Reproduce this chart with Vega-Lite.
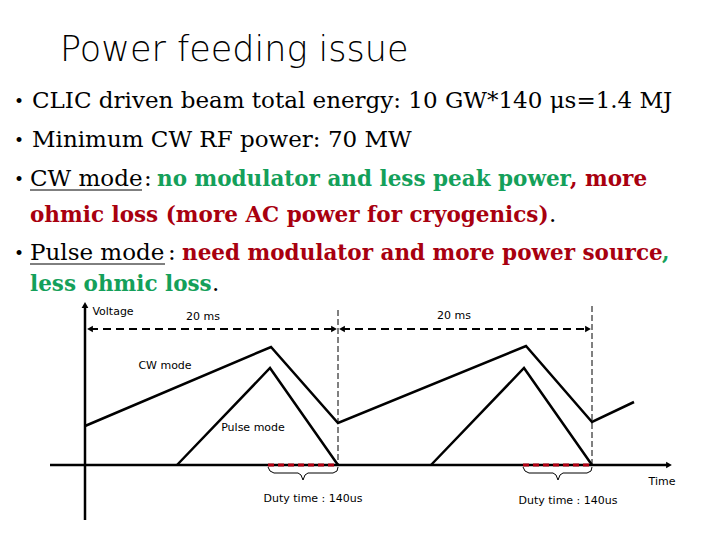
{
  "$schema": "https://vega.github.io/schema/vega-lite/v6.json",
  "width": 720,
  "height": 540,
  "autosize": {"type": "fit", "contains": "padding"},
  "padding": 0,
  "background": "white",
  "config": {"view": {"stroke": null}},
  "datasets": {
    "words": [
      {"x": 60, "y": 61, "t": "Power feeding issue", "k": "title", "r": "plain"},
      {"x": 14, "y": 108, "t": "•", "k": "dot", "r": "plain"},
      {"x": 32, "y": 108, "t": "CLIC driven beam total energy: 10 GW*140 μs=1.4 MJ", "k": "body", "r": "plain"},
      {"x": 14, "y": 147, "t": "•", "k": "dot", "r": "plain"},
      {"x": 32, "y": 147, "t": "Minimum CW RF power: 70 MW", "k": "body", "r": "plain"},
      {"x": 14, "y": 186, "t": "•", "k": "dot", "r": "plain"},
      {"x": 30, "y": 186, "t": "CW mode", "k": "body", "r": "plain"},
      {"x": 144, "y": 186, "t": ":", "k": "body", "r": "plain"},
      {"x": 157, "y": 186, "t": "no modulator and less peak power", "k": "bold", "r": "good"},
      {"x": 570, "y": 186, "t": ", more", "k": "bold", "r": "bad"},
      {"x": 30, "y": 222, "t": "ohmic loss (more AC power for cryogenics)", "k": "bold", "r": "bad"},
      {"x": 549, "y": 222, "t": ".", "k": "body", "r": "plain"},
      {"x": 14, "y": 260, "t": "•", "k": "dot", "r": "plain"},
      {"x": 30, "y": 260, "t": "Pulse mode", "k": "body", "r": "plain"},
      {"x": 168, "y": 260, "t": ":", "k": "body", "r": "plain"},
      {"x": 182, "y": 260, "t": "need modulator and more power source", "k": "bold", "r": "bad"},
      {"x": 662, "y": 260, "t": ",", "k": "bold", "r": "good"},
      {"x": 30, "y": 291, "t": "less ohmic loss", "k": "bold", "r": "good"},
      {"x": 212, "y": 291, "t": ".", "k": "body", "r": "plain"},
      {"x": 113, "y": 312, "t": "Voltage", "k": "diag", "r": "plain"},
      {"x": 203, "y": 317, "t": "20 ms", "k": "diag", "r": "plain"},
      {"x": 454, "y": 316, "t": "20 ms", "k": "diag", "r": "plain"},
      {"x": 165, "y": 366, "t": "CW mode", "k": "diag", "r": "plain"},
      {"x": 253, "y": 428, "t": "Pulse mode", "k": "diag", "r": "plain"},
      {"x": 313, "y": 499, "t": "Duty time : 140us", "k": "diag", "r": "plain"},
      {"x": 568, "y": 501, "t": "Duty time : 140us", "k": "diag", "r": "plain"},
      {"x": 662, "y": 482, "t": "Time", "k": "diag", "r": "plain"}
    ],
    "paths": [
      {"id": "yaxis", "k": "solid", "o": 0, "x": 85, "y": 520},
      {"id": "yaxis", "k": "solid", "o": 1, "x": 85, "y": 306},
      {"id": "xaxis", "k": "solid", "o": 0, "x": 50, "y": 465},
      {"id": "xaxis", "k": "solid", "o": 1, "x": 667, "y": 465},
      {"id": "cw", "k": "solid", "o": 0, "x": 85, "y": 426},
      {"id": "cw", "k": "solid", "o": 1, "x": 271, "y": 347},
      {"id": "cw", "k": "solid", "o": 2, "x": 338, "y": 423},
      {"id": "cw", "k": "solid", "o": 3, "x": 526, "y": 346},
      {"id": "cw", "k": "solid", "o": 4, "x": 592, "y": 422},
      {"id": "cw", "k": "solid", "o": 5, "x": 634, "y": 402},
      {"id": "p1", "k": "solid", "o": 0, "x": 177, "y": 465},
      {"id": "p1", "k": "solid", "o": 1, "x": 270, "y": 368},
      {"id": "p1", "k": "solid", "o": 2, "x": 338, "y": 465},
      {"id": "p2", "k": "solid", "o": 0, "x": 431, "y": 465},
      {"id": "p2", "k": "solid", "o": 1, "x": 524, "y": 368},
      {"id": "p2", "k": "solid", "o": 2, "x": 592, "y": 465},
      {"id": "v1", "k": "thin", "o": 0, "x": 338, "y": 310},
      {"id": "v1", "k": "thin", "o": 1, "x": 338, "y": 465},
      {"id": "v2", "k": "thin", "o": 0, "x": 592, "y": 306},
      {"id": "v2", "k": "thin", "o": 1, "x": 592, "y": 465},
      {"id": "h1", "k": "span", "o": 0, "x": 90, "y": 329},
      {"id": "h1", "k": "span", "o": 1, "x": 334, "y": 329},
      {"id": "h2", "k": "span", "o": 0, "x": 342, "y": 329},
      {"id": "h2", "k": "span", "o": 1, "x": 588, "y": 329},
      {"id": "r1", "k": "duty", "o": 0, "x": 268, "y": 465},
      {"id": "r1", "k": "duty", "o": 1, "x": 338, "y": 465},
      {"id": "r2", "k": "duty", "o": 0, "x": 523, "y": 465},
      {"id": "r2", "k": "duty", "o": 1, "x": 592, "y": 465},
      {"id": "b1", "k": "brace", "o": 0, "x": 268, "y": 467},
      {"id": "b1", "k": "brace", "o": 1, "x": 270, "y": 471},
      {"id": "b1", "k": "brace", "o": 2, "x": 274, "y": 473},
      {"id": "b1", "k": "brace", "o": 3, "x": 298, "y": 473},
      {"id": "b1", "k": "brace", "o": 4, "x": 301, "y": 475},
      {"id": "b1", "k": "brace", "o": 5, "x": 303, "y": 480},
      {"id": "b1", "k": "brace", "o": 6, "x": 305, "y": 475},
      {"id": "b1", "k": "brace", "o": 7, "x": 308, "y": 473},
      {"id": "b1", "k": "brace", "o": 8, "x": 333, "y": 473},
      {"id": "b1", "k": "brace", "o": 9, "x": 337, "y": 471},
      {"id": "b1", "k": "brace", "o": 10, "x": 338, "y": 467},
      {"id": "b2", "k": "brace", "o": 0, "x": 523, "y": 467},
      {"id": "b2", "k": "brace", "o": 1, "x": 525, "y": 471},
      {"id": "b2", "k": "brace", "o": 2, "x": 529, "y": 473},
      {"id": "b2", "k": "brace", "o": 3, "x": 553, "y": 473},
      {"id": "b2", "k": "brace", "o": 4, "x": 556, "y": 475},
      {"id": "b2", "k": "brace", "o": 5, "x": 558, "y": 480},
      {"id": "b2", "k": "brace", "o": 6, "x": 560, "y": 475},
      {"id": "b2", "k": "brace", "o": 7, "x": 563, "y": 473},
      {"id": "b2", "k": "brace", "o": 8, "x": 587, "y": 473},
      {"id": "b2", "k": "brace", "o": 9, "x": 591, "y": 471},
      {"id": "b2", "k": "brace", "o": 10, "x": 592, "y": 467},
      {"id": "u1", "k": "under", "o": 0, "x": 30, "y": 190},
      {"id": "u1", "k": "under", "o": 1, "x": 142, "y": 190},
      {"id": "u2", "k": "under", "o": 0, "x": 30, "y": 264},
      {"id": "u2", "k": "under", "o": 1, "x": 165, "y": 264}
    ],
    "heads": [
      {"x": 85, "y": 305, "d": "up"},
      {"x": 669, "y": 465, "d": "right"},
      {"x": 90, "y": 329, "d": "left"},
      {"x": 334, "y": 329, "d": "right"},
      {"x": 342, "y": 329, "d": "left"},
      {"x": 588, "y": 329, "d": "right"}
    ]
  },
  "encoding": {
    "x": {"field": "x", "type": "quantitative", "scale": {"domain": [0, 720], "nice": false, "zero": false}, "axis": null},
    "y": {"field": "y", "type": "quantitative", "scale": {"domain": [0, 540], "nice": false, "zero": false, "reverse": true}, "axis": null}
  },
  "layer": [
    {
      "data": {"name": "paths"},
      "transform": [{"filter": "datum.k == 'solid'"}],
      "mark": {"type": "line", "color": "black", "strokeWidth": 2.5},
      "encoding": {"detail": {"field": "id"}, "order": {"field": "o"}}
    },
    {
      "data": {"name": "paths"},
      "transform": [{"filter": "datum.k == 'thin'"}],
      "mark": {"type": "line", "color": "black", "strokeWidth": 1, "strokeDash": [6, 3]},
      "encoding": {"detail": {"field": "id"}, "order": {"field": "o"}}
    },
    {
      "data": {"name": "paths"},
      "transform": [{"filter": "datum.k == 'span'"}],
      "mark": {"type": "line", "color": "black", "strokeWidth": 2, "strokeDash": [8, 5]},
      "encoding": {"detail": {"field": "id"}, "order": {"field": "o"}}
    },
    {
      "data": {"name": "paths"},
      "transform": [{"filter": "datum.k == 'duty'"}],
      "mark": {"type": "line", "color": "#B00012", "strokeWidth": 3, "strokeDash": [6, 4]},
      "encoding": {"detail": {"field": "id"}, "order": {"field": "o"}}
    },
    {
      "data": {"name": "paths"},
      "transform": [{"filter": "datum.k == 'brace' || datum.k == 'under'"}],
      "mark": {"type": "line", "color": "black", "strokeWidth": 1},
      "encoding": {
        "detail": {"field": "id"},
        "order": {"field": "o"},
        "strokeWidth": {"field": "k", "type": "nominal", "scale": {"domain": ["brace", "under"], "range": [1, 2]}, "legend": null}
      }
    },
    {
      "data": {"name": "heads"},
      "mark": {"type": "point", "filled": true, "color": "black", "size": 45, "opacity": 1},
      "encoding": {
        "shape": {"field": "d", "type": "nominal", "scale": {"domain": ["up", "right", "left"], "range": ["triangle-up", "triangle-right", "triangle-left"]}, "legend": null}
      }
    },
    {
      "data": {"name": "words"},
      "transform": [{"filter": "datum.k == 'title'"}],
      "mark": {"type": "text", "align": "left", "baseline": "alphabetic", "font": "DejaVu Sans", "fontSize": 35, "fontWeight": 200, "color": "black"},
      "encoding": {"text": {"field": "t"}}
    },
    {
      "data": {"name": "words"},
      "transform": [{"filter": "datum.k == 'dot'"}],
      "mark": {"type": "text", "align": "left", "baseline": "alphabetic", "font": "DejaVu Serif", "fontSize": 17, "dy": -1, "color": "black"},
      "encoding": {"text": {"field": "t"}}
    },
    {
      "data": {"name": "words"},
      "transform": [{"filter": "datum.k == 'body'"}],
      "mark": {"type": "text", "align": "left", "baseline": "alphabetic", "font": "DejaVu Serif", "fontSize": 23, "color": "black"},
      "encoding": {"text": {"field": "t"}}
    },
    {
      "data": {"name": "words"},
      "transform": [{"filter": "datum.k == 'bold'"}],
      "mark": {"type": "text", "align": "left", "baseline": "alphabetic", "font": "DejaVu Serif", "fontSize": 21.5, "fontWeight": "bold"},
      "encoding": {
        "text": {"field": "t"},
        "color": {"field": "r", "type": "nominal", "scale": {"domain": ["plain", "good", "bad"], "range": ["#000000", "#14A05A", "#A8000F"]}, "legend": null}
      }
    },
    {
      "data": {"name": "words"},
      "transform": [{"filter": "datum.k == 'diag'"}],
      "mark": {"type": "text", "align": "center", "baseline": "middle", "font": "DejaVu Sans", "fontSize": 11, "color": "black"},
      "encoding": {"text": {"field": "t"}}
    }
  ]
}
